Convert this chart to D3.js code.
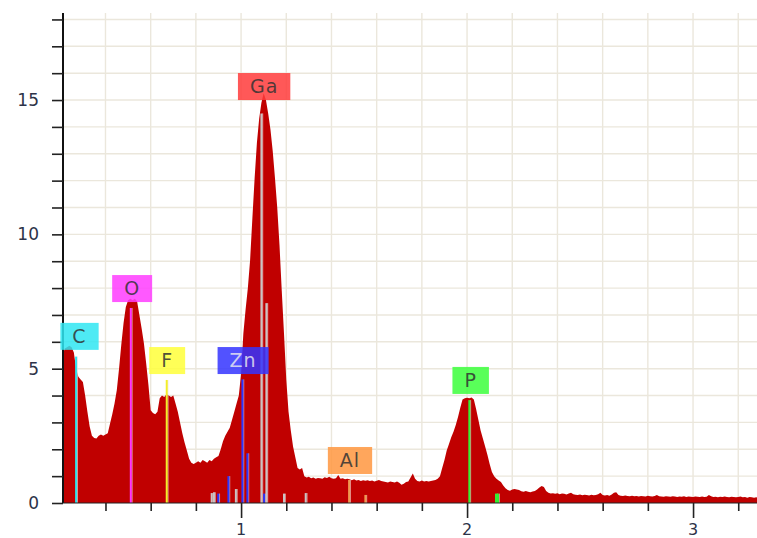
<!DOCTYPE html>
<html>
<head>
<meta charset="utf-8">
<script src="https://cdn.jsdelivr.net/npm/d3@7"></script>
<style>
  body { margin: 0; background: #fff; }
  svg { display: block; }
</style>
</head>
<body>
<div id="chart"></div>
<script>
// EDS spectrum, counts per channel (channel width 0.01 keV, first channel 0.21 keV)
const chanStart = 0.21;
const chanWidth = 0.01;
const counts = [
  5.5, 5.75, 5.8, 5.85, 5.8, 5.6, 5.0, 4.7, 4.6, 4.5,
  4.0, 3.4, 2.85, 2.5, 2.42, 2.4, 2.5, 2.55, 2.5, 2.55,
  2.6, 2.95, 3.3, 3.7, 4.2, 5.0, 5.9, 6.7, 7.3, 7.55,
  7.6, 7.55, 7.6, 7.5, 7.0, 6.5, 5.95, 5.2, 4.4, 3.45,
  3.35, 3.3, 3.4, 3.9, 4.0, 3.95, 4.05, 4.0, 3.95, 4.0,
  3.7, 3.4, 3.0, 2.6, 2.25, 1.95, 1.65, 1.5, 1.45, 1.5,
  1.55, 1.5, 1.6, 1.55, 1.5, 1.6, 1.55, 1.65, 1.7, 1.75,
  2.0, 2.3, 2.5, 2.65, 2.8, 3.1, 3.4, 3.7, 4.0, 4.8,
  6.3, 7.2, 8.0, 9.05, 10.6, 12.1, 13.4, 14.3, 14.9, 15.25,
  15.0, 14.5, 13.9, 13.1, 12.1, 11.0, 9.6, 7.9, 6.3, 4.6,
  3.4, 2.7, 2.1, 1.7, 1.3, 1.25, 1.3, 1.0, 0.95, 0.98,
  0.92, 0.95, 0.9, 0.93, 0.92, 0.9, 0.96, 0.93, 0.98, 0.92,
  0.9, 0.92, 1.04, 0.9, 0.92, 0.88, 0.9, 0.88, 0.85, 0.88,
  0.84, 0.86, 0.82, 0.85, 0.83, 0.85, 0.82, 0.84, 0.8, 0.83,
  0.86, 0.82, 0.8, 0.78, 0.76, 0.8, 0.78, 0.76, 0.8, 0.75,
  0.68, 0.72, 0.78, 0.8, 0.95, 1.1, 0.9, 0.82, 0.8, 0.84,
  0.8, 0.82, 0.8, 0.82, 0.84, 0.86, 0.9, 1.0, 1.3, 1.6,
  1.95, 2.2, 2.45, 2.65, 2.9, 3.2, 3.55, 3.85, 3.9, 3.92,
  3.9, 3.93, 3.85, 3.5, 3.1, 2.7, 2.4, 2.1, 1.8, 1.45,
  1.15, 1.0, 0.9, 0.84, 0.78, 0.65, 0.55, 0.48, 0.46, 0.5,
  0.52, 0.5, 0.48, 0.44, 0.42, 0.45, 0.42, 0.4, 0.43, 0.45,
  0.5, 0.58, 0.63, 0.6, 0.45, 0.38, 0.35, 0.36, 0.34, 0.36,
  0.33, 0.35, 0.34, 0.32, 0.35, 0.38, 0.33, 0.31, 0.3, 0.32,
  0.29, 0.31, 0.3, 0.28, 0.31, 0.29, 0.3, 0.33, 0.38, 0.3,
  0.28, 0.3, 0.27, 0.32, 0.38, 0.4, 0.3, 0.27, 0.26, 0.28,
  0.26, 0.25, 0.27, 0.25, 0.26, 0.24, 0.26, 0.25, 0.24, 0.27,
  0.25, 0.24, 0.26, 0.3, 0.25, 0.24, 0.23, 0.25, 0.24, 0.23,
  0.25, 0.24, 0.22, 0.24, 0.23, 0.25, 0.22, 0.24, 0.23, 0.22,
  0.24, 0.23, 0.22, 0.24, 0.22, 0.23, 0.3, 0.25, 0.22, 0.23,
  0.21, 0.23, 0.22, 0.24, 0.22, 0.21, 0.23, 0.22, 0.21, 0.22,
  0.24, 0.21, 0.22, 0.2, 0.22, 0.21, 0.2, 0.21, 0.2
];

// element marker lines (energy keV, height in counts)
const markerElem   = ["Ga", "Ga", "Zn", "Zn", "Ga", "Ga", "Zn", "Ga", "Ga", "Zn", "Zn", "Ga", "Al", "Al", "C", "O", "F", "P", "P", "P"];
const markerEnergy = [0.87, 0.88, 0.899, 0.944, 0.977, 1.09, 1.006, 1.112, 1.286, 1.028, 1.102, 1.19, 1.478, 1.55, 0.27, 0.512, 0.671, 2.01, 2.128, 2.137];
const markerHeight = [0.37, 0.4, 0.35, 1.0, 0.52, 14.5, 4.6, 7.44, 0.37, 1.85, 0.35, 0.35, 0.86, 0.3, 5.45, 7.26, 4.58, 3.83, 0.35, 0.35];

// peak labels
const labelElem   = ["C", "O", "F", "Zn", "Ga", "Al", "P"];
const labelEnergy = [0.285, 0.518, 0.673, 1.009, 1.102, 1.482, 2.016];
const labelLevel  = [5.7, 7.48, 4.8, 4.8, 15.0, 1.08, 4.06];

// axis ticks
const xTickLabels = [1, 2, 3];
const yTickLabels = [0, 5, 10, 15];

const lineColor = { C: "#2fe3ef", O: "#ff33ff", F: "#f2ee2a", Zn: "#2a35ff", Ga: "#c9c4c4", Al: "#f09a50", P: "#33ee33" };
const boxColor  = { C: "#2fe6f2", O: "#ff3cff", F: "#ffff3a", Zn: "#3434ff", Ga: "#ff3b3b", Al: "#ff9640", P: "#3cff3c" };

const W = 757, H = 538;
const svg = d3.select("#chart").append("svg")
  .attr("width", W).attr("height", H).attr("viewBox", `0 0 ${W} ${H}`);

const x = d3.scaleLinear().domain([0.212, 3.283]).range([63, 757]);
const y = d3.scaleLinear().domain([0, 18.24]).range([503, 13]);

const FONT = "'DejaVu Sans', Verdana, sans-serif";

svg.append("defs").append("clipPath").attr("id", "plot-clip")
  .append("rect").attr("x", 63).attr("y", 0).attr("width", W - 63).attr("height", 503);

// gridlines
svg.append("g").selectAll("line").data(x.ticks(15)).join("line")
  .attr("x1", d => x(d)).attr("x2", d => x(d)).attr("y1", 13).attr("y2", 503)
  .attr("stroke", "#ebe7dc").attr("stroke-width", 1.4);
svg.append("g").selectAll("line").data(y.ticks(18).filter(d => d > 0)).join("line")
  .attr("x1", 63).attr("x2", W).attr("y1", d => y(d)).attr("y2", d => y(d))
  .attr("stroke", "#ebe7dc").attr("stroke-width", 1.4);

// spectrum
const spec = counts.map((c, i) => ({ e: chanStart + i * chanWidth, c }));
const area = d3.area()
  .x(d => x(d.e)).y0(y(0)).y1(d => y(d.c));
const plot = svg.append("g").attr("clip-path", "url(#plot-clip)");
plot.append("path").datum(spec).attr("d", area).attr("fill", "#c00000");

// marker lines
const markers = markerElem.map((el, i) => ({ el, e: markerEnergy[i], h: markerHeight[i] }));
plot.append("g").selectAll("line").data(markers).join("line")
  .attr("x1", d => x(d.e) + 1.3).attr("x2", d => x(d.e) + 1.3)
  .attr("y1", y(0)).attr("y2", d => y(d.h))
  .attr("stroke", "#f4dede").attr("stroke-width", 1).attr("opacity", 0.7);
plot.append("g").selectAll("line").data(markers).join("line")
  .attr("x1", d => x(d.e)).attr("x2", d => x(d.e))
  .attr("y1", y(0)).attr("y2", d => y(d.h))
  .attr("stroke", d => lineColor[d.el]).attr("stroke-width", 2);

// axes
const yAxis = svg.append("g").attr("transform", "translate(63,0)")
  .call(d3.axisLeft(y).ticks(18).tickSize(11).tickPadding(13)
    .tickFormat(d => yTickLabels.includes(d) ? d : ""));
yAxis.select(".domain").attr("d", "M0,13V503").attr("stroke", "#111").attr("stroke-width", 2);
yAxis.selectAll(".tick line").attr("stroke", "#222").attr("stroke-width", 1.6);
yAxis.selectAll("text").attr("fill", "#2d3348")
  .style("font-family", FONT).style("font-size", "17px");

const xAxis = svg.append("g").attr("transform", "translate(0,503)")
  .call(d3.axisBottom(x).ticks(15).tickSize(8).tickFormat(""));
xAxis.select(".domain").attr("d", "M63,0H757").attr("stroke", "#222").attr("stroke-width", 1);
xAxis.selectAll(".tick line").attr("stroke", "#222").attr("stroke-width", 1.6)
  .attr("y2", d => xTickLabels.includes(Math.round(d * 10) / 10) ? 15 : 8);
xAxis.selectAll(".tick text").remove();
svg.append("g").selectAll("text").data(xTickLabels).join("text")
  .attr("x", d => x(d)).attr("y", 535).attr("text-anchor", "middle")
  .attr("fill", "#2d3348").style("font-family", FONT).style("font-size", "16px")
  .text(d => d);

// peak labels
const labels = labelElem.map((el, i) => ({ el, e: labelEnergy[i], lv: labelLevel[i] }));
const lab = svg.append("g").selectAll("g").data(labels).join("g")
  .attr("transform", d => `translate(${x(d.e)},${y(d.lv)})`);
const labRect = lab.append("rect").attr("fill", d => boxColor[d.el]).attr("opacity", 0.85);
const labText = lab.append("text").attr("y", -7).attr("text-anchor", "middle")
  .attr("fill", d => d.el === "Zn" ? "#e4e4f0" : "#333").attr("fill-opacity", 0.85)
  .style("font-family", FONT).style("font-size", "19px").style("letter-spacing", "1px")
  .text(d => d.el);
labText.each(function(d) { d.tw = this.getComputedTextLength(); });
labRect.attr("x", d => -d.tw / 2 - 12).attr("width", d => d.tw + 24)
  .attr("y", -27).attr("height", 27);
</script>
</body>
</html>
